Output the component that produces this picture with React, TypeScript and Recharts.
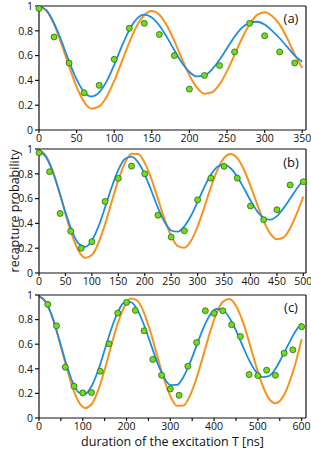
import { ComposedChart, Line, Scatter, XAxis, YAxis } from "recharts";

// panel (a)
const timeA = [0, 10, 20, 30, 40, 50, 60, 70, 80, 90, 100, 110, 120, 130, 140, 150, 160, 170, 180, 190, 200, 210, 220, 230, 240, 250, 260, 270, 280, 290, 300, 310, 320, 330, 340, 350];
const blueA = [1.0, 0.964, 0.862, 0.716, 0.554, 0.408, 0.306, 0.27, 0.303, 0.394, 0.526, 0.674, 0.806, 0.897, 0.93, 0.907, 0.843, 0.749, 0.643, 0.543, 0.468, 0.432, 0.44, 0.488, 0.566, 0.659, 0.752, 0.825, 0.864, 0.873, 0.85, 0.8, 0.74, 0.67, 0.6, 0.55];
const orangeA = [1.0, 0.961, 0.852, 0.692, 0.513, 0.347, 0.226, 0.172, 0.19, 0.269, 0.396, 0.549, 0.705, 0.838, 0.928, 0.96, 0.93, 0.843, 0.717, 0.575, 0.441, 0.341, 0.293, 0.304, 0.368, 0.475, 0.606, 0.74, 0.853, 0.928, 0.95, 0.92, 0.85, 0.74, 0.61, 0.5];
const measTimeA = [0, 20, 40, 60, 80, 100, 120, 140, 160, 180, 200, 220, 240, 260, 280, 300, 320, 340];
const measA = [0.98, 0.75, 0.54, 0.3, 0.36, 0.57, 0.82, 0.86, 0.77, 0.6, 0.33, 0.44, 0.52, 0.63, 0.86, 0.76, 0.63, 0.54];
const ticksA = [0, 50, 100, 150, 200, 250, 300, 350];

// panel (b)
const timeB = [0, 12.5, 25, 37.5, 50, 62.5, 75, 87.5, 100, 112.5, 125, 137.5, 150, 162.5, 175, 187.5, 200, 212.5, 225, 237.5, 250, 262.5, 275, 287.5, 300, 312.5, 325, 337.5, 350, 362.5, 375, 387.5, 400, 412.5, 425, 437.5, 450, 462.5, 475, 487.5, 500];
const blueB = [0.98, 0.94, 0.827, 0.666, 0.49, 0.336, 0.236, 0.211, 0.262, 0.376, 0.529, 0.692, 0.831, 0.919, 0.938, 0.892, 0.794, 0.663, 0.526, 0.412, 0.343, 0.333, 0.377, 0.462, 0.574, 0.691, 0.792, 0.857, 0.874, 0.845, 0.777, 0.685, 0.585, 0.499, 0.444, 0.431, 0.459, 0.523, 0.6, 0.68, 0.75];
const orangeB = [0.99, 0.949, 0.835, 0.668, 0.479, 0.305, 0.178, 0.122, 0.145, 0.242, 0.394, 0.574, 0.749, 0.886, 0.961, 0.96, 0.888, 0.76, 0.598, 0.434, 0.299, 0.217, 0.204, 0.26, 0.375, 0.528, 0.69, 0.832, 0.928, 0.96, 0.926, 0.835, 0.703, 0.556, 0.419, 0.318, 0.272, 0.287, 0.361, 0.478, 0.617];
const measTimeB = [0, 20, 40, 60, 80, 100, 125, 150, 175, 200, 225, 250, 275, 300, 325, 350, 375, 400, 425, 450, 475, 500];
const measB = [0.97, 0.817, 0.48, 0.337, 0.2, 0.253, 0.577, 0.763, 0.862, 0.8, 0.466, 0.29, 0.34, 0.59, 0.765, 0.86, 0.765, 0.54, 0.43, 0.51, 0.71, 0.736];
const ticksB = [0, 50, 100, 150, 200, 250, 300, 350, 400, 450, 500];

// panel (c)
const timeC = [0, 15, 30, 45, 60, 75, 90, 105, 120, 135, 150, 165, 180, 195, 210, 225, 240, 255, 270, 285, 300, 315, 330, 345, 360, 375, 390, 405, 420, 435, 450, 465, 480, 495, 510, 525, 540, 555, 570, 585, 600];
const blueC = [0.99, 0.946, 0.825, 0.652, 0.466, 0.307, 0.21, 0.195, 0.258, 0.386, 0.553, 0.722, 0.86, 0.939, 0.942, 0.877, 0.756, 0.605, 0.454, 0.333, 0.268, 0.269, 0.334, 0.449, 0.589, 0.727, 0.833, 0.886, 0.878, 0.815, 0.712, 0.589, 0.47, 0.379, 0.333, 0.341, 0.399, 0.495, 0.6, 0.7, 0.77];
const orangeC = [0.99, 0.947, 0.824, 0.647, 0.449, 0.267, 0.136, 0.081, 0.112, 0.223, 0.391, 0.587, 0.77, 0.907, 0.972, 0.953, 0.855, 0.696, 0.507, 0.323, 0.178, 0.099, 0.101, 0.182, 0.325, 0.505, 0.689, 0.846, 0.945, 0.968, 0.913, 0.789, 0.619, 0.435, 0.272, 0.16, 0.12, 0.159, 0.27, 0.431, 0.64];
const measTimeC = [20, 40, 60, 80, 100, 120, 140, 160, 180, 200, 220, 240, 260, 280, 300, 320, 340, 360, 380, 400, 420, 440, 460, 480, 500, 520, 540, 560, 580, 600];
const measC = [0.924, 0.75, 0.413, 0.258, 0.204, 0.207, 0.38, 0.603, 0.853, 0.94, 0.875, 0.709, 0.476, 0.348, 0.236, 0.185, 0.421, 0.614, 0.872, 0.851, 0.872, 0.758, 0.663, 0.353, 0.345, 0.389, 0.348, 0.527, 0.554, 0.742];
const ticksC = [0, 50, 100, 150, 200, 250, 300, 350, 400, 450, 500, 550, 600];

const yTicks = [0, 0.2, 0.4, 0.6, 0.8, 1];

const BLUE = "#1d8de4";
const ORANGE = "#f7921e";
const AXIS = "#111";

const GreenDot = (props: any) => (
  <circle cx={props.cx} cy={props.cy} r={3} fill="#6ede1c" stroke="#2f6414" strokeWidth={0.8} />
);

function Panel({ time, blue, orange, measTime, meas, xMax, ticks, labelStep, height }: any) {
  const curve = time.map((t: number, i: number) => ({ t, blue: blue[i], orange: orange[i] }));
  const points = measTime.map((t: number, i: number) => ({ t, p: meas[i] }));

  return (
    <ComposedChart width={311} height={height} data={curve} margin={{ top: 5, right: 4, bottom: 0, left: 0 }}>
      <XAxis
        dataKey="t"
        type="number"
        domain={[0, xMax]}
        ticks={ticks}
        interval={0}
        height={20}
        tickSize={3}
        tickMargin={1.5}
        stroke={AXIS}
        strokeWidth={1.2}
        tick={{ fontSize: 10.5, fill: AXIS }}
        tickFormatter={(v: number) => (v % labelStep === 0 ? String(v) : "")}
      />
      <XAxis xAxisId="top" orientation="top" type="number" domain={[0, xMax]} tick={false} tickLine={false} height={1} stroke={AXIS} strokeWidth={1.2} />
      <YAxis
        type="number"
        domain={[0, 1]}
        ticks={yTicks}
        interval={0}
        width={39}
        tickSize={4}
        tickMargin={2}
        stroke={AXIS}
        strokeWidth={1.2}
        tick={{ fontSize: 10.5, fill: AXIS }}
        tickFormatter={(v: number) => String(v)}
      />
      <YAxis yAxisId="right" orientation="right" type="number" domain={[0, 1]} tick={false} tickLine={false} width={1} stroke={AXIS} strokeWidth={1.2} />
      <Line dataKey="orange" type="monotone" stroke={ORANGE} strokeWidth={2} dot={false} activeDot={false} isAnimationActive={false} />
      <Line dataKey="blue" type="monotone" stroke={BLUE} strokeWidth={1.8} dot={false} activeDot={false} isAnimationActive={false} />
      <Scatter data={points} dataKey="p" shape={GreenDot} isAnimationActive={false} />
    </ComposedChart>
  );
}

const tagStyle: any = { position: "absolute", left: 278, width: 26, textAlign: "center", fontSize: 13, lineHeight: "14px", color: "#111" };

export default function App() {
  return (
    <div style={{ position: "absolute", left: 0, top: 0, width: 311, height: 450, background: "#fff", fontFamily: "'Open Sans', sans-serif" }}>
      <div style={{ position: "absolute", left: 0, top: 0 }}>
        <Panel time={timeA} blue={blueA} orange={orangeA} measTime={measTimeA} meas={measA} xMax={355} ticks={ticksA} labelStep={50} height={150} />
      </div>
      <div style={{ position: "absolute", left: 0, top: 143 }}>
        <Panel time={timeB} blue={blueB} orange={orangeB} measTime={measTimeB} meas={measB} xMax={505} ticks={ticksB} labelStep={50} height={150} />
      </div>
      <div style={{ position: "absolute", left: 0, top: 289 }}>
        <Panel time={timeC} blue={blueC} orange={orangeC} measTime={measTimeC} meas={measC} xMax={610} ticks={ticksC} labelStep={100} height={149} />
      </div>
      <div style={{ ...tagStyle, top: 11 }}>(a)</div>
      <div style={{ ...tagStyle, top: 155 }}>(b)</div>
      <div style={{ ...tagStyle, top: 300 }}>(c)</div>
      <div
        style={{
          position: "absolute",
          left: 15 - 80,
          top: 211 - 8,
          width: 160,
          height: 16,
          lineHeight: "16px",
          textAlign: "center",
          fontSize: 12.5,
          color: "#111",
          transform: "rotate(-90deg)",
        }}
      >
        recapture probability
      </div>
      <div style={{ position: "absolute", left: 39, width: 267, top: 434, textAlign: "center", fontSize: 12.5, lineHeight: "16px", color: "#111" }}>
        duration of the excitation T [ns]
      </div>
    </div>
  );
}
